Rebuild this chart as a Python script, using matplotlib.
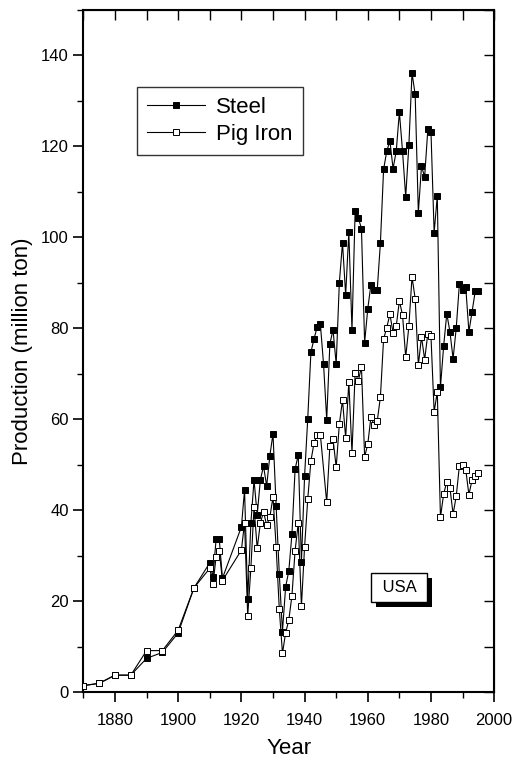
import matplotlib
matplotlib.use("Agg")
import matplotlib.pyplot as plt
from matplotlib.ticker import MultipleLocator
from matplotlib.patches import Rectangle
from matplotlib.transforms import IdentityTransform

plt.rcParams['font.family'] = ['Liberation Sans', 'DejaVu Sans']

# years (annual from 1920, five-yearly before 1910)
early_years = [1870, 1875, 1880, 1885, 1890, 1895, 1900, 1905]
prewar_years = [1910, 1911, 1912, 1913, 1914]

steel_years = early_years + prewar_years + list(range(1920, 1996))
steel = [1.4, 1.9, 3.7, 3.7, 7.4, 8.7, 13.0, 22.9,
         28.4, 25.3, 33.6, 33.6, 25.0,
         36.3, 44.4, 20.4, 37.1, 46.6, 38.9, 46.6, 49.7, 45.3, 51.9,
         56.8, 40.9, 25.9, 13.3, 23.1, 26.6, 34.7, 49.0, 52.2, 28.6,
         47.5, 60.1, 74.7, 77.7, 80.3, 80.9, 72.1, 59.9, 76.5, 79.7,
         72.1, 90.0, 98.8, 87.3, 101.1, 79.6, 105.8, 104.3, 101.9, 76.8,
         84.3, 89.6, 88.5, 88.5, 98.8, 114.9, 118.9, 121.2, 115.1, 118.9,
         127.5, 118.9, 108.9, 120.2, 136.1, 131.4, 105.4, 115.6, 113.3, 123.7,
         123.2, 101.0, 109.1, 67.0, 76.0, 83.2, 79.2, 73.3, 80.1, 89.8,
         88.4, 89.1, 79.2, 83.6, 88.1, 88.1]

pig_years = early_years + prewar_years + list(range(1920, 1946)) + list(range(1947, 1996))
pig_iron = [1.4, 1.9, 3.7, 3.7, 9.1, 9.1, 13.6, 22.9,
            27.2, 23.7, 29.7, 31.0, 24.5,
            31.2, 37.2, 16.7, 27.2, 40.7, 31.6, 37.1, 39.6, 36.7, 38.4,
            42.9, 31.9, 18.2, 8.5, 13.0, 15.8, 21.2, 31.1, 37.2, 18.9,
            31.9, 42.4, 50.8, 54.8, 56.5, 56.5,
            41.7, 54.1, 55.7,
            49.4, 58.9, 64.2, 55.9, 68.2, 52.6, 70.2, 68.4, 71.5, 51.7,
            54.5, 60.5, 58.7, 59.6, 64.9, 77.6, 80.1, 83.1, 79.0, 80.4,
            86.0, 82.9, 73.6, 80.4, 91.3, 86.5, 71.9, 78.1, 73.1, 78.8,
            78.2, 61.6, 66.0, 38.4, 43.5, 46.2, 44.9, 39.1, 43.1, 49.8,
            49.9, 48.9, 43.4, 46.6, 47.5, 48.1]

fig = plt.figure(figsize=(5.18, 7.6), dpi=100)
ax = fig.add_axes([0.161, 0.0895, 0.793, 0.8975])

ax.plot(steel_years, steel, color='black', lw=0.8, marker='s', ms=3.8,
        mfc='black', mec='black', mew=0.7, label='Steel', zorder=3)
ax.plot(pig_years, pig_iron, color='black', lw=0.8, marker='s', ms=3.8,
        mfc='white', mec='black', mew=0.7, label='Pig Iron', zorder=4)

ax.set_xlim(1870, 2000)
ax.set_ylim(0, 150)
ax.xaxis.set_major_locator(MultipleLocator(20))
ax.xaxis.set_minor_locator(MultipleLocator(10))
ax.yaxis.set_major_locator(MultipleLocator(20))
ax.yaxis.set_minor_locator(MultipleLocator(10))
ax.tick_params(which='major', direction='out', length=7, width=1.2, labelsize=12)
ax.tick_params(axis='x', which='major', pad=8)
ax.tick_params(which='minor', direction='out', length=4, width=1.0)
for s in ax.spines.values():
    s.set_linewidth(1.5)

# mirrored ticks on top and right point inward
top = ax.secondary_xaxis('top')
top.xaxis.set_major_locator(MultipleLocator(20))
top.xaxis.set_minor_locator(MultipleLocator(10))
top.tick_params(which='both', direction='in', length=7, width=1.0, labeltop=False)
right = ax.secondary_yaxis('right')
right.yaxis.set_major_locator(MultipleLocator(20))
right.yaxis.set_minor_locator(MultipleLocator(10))
right.tick_params(which='both', direction='in', length=7, width=1.0, labelright=False)

ax.set_xlabel('Year', fontsize=16, labelpad=7)
ax.set_ylabel('Production (million ton)', fontsize=16, labelpad=6)

leg = ax.legend(loc='upper left', bbox_to_anchor=(0.131, 0.887), fontsize=16,
                frameon=True, fancybox=False, edgecolor='black',
                handlelength=2.6, borderpad=0.45, labelspacing=0.25,
                handletextpad=0.5, borderaxespad=0)
leg.get_frame().set_linewidth(1.0)

# label box with drop shadow
usa = ax.text(1970, 23, ' USA ', fontsize=12, ha='center', va='center',
              bbox=dict(boxstyle='square,pad=0.4', fc='white', ec='black', lw=1.0),
              zorder=6)
fig.canvas.draw()
bb = usa.get_bbox_patch().get_window_extent()
ax.add_patch(Rectangle((bb.x0 + 5, bb.y0 - 5), bb.width, bb.height,
                       transform=IdentityTransform(), fc='black', ec='none',
                       zorder=5, clip_on=False))

fig.savefig('out.png', dpi=100)
